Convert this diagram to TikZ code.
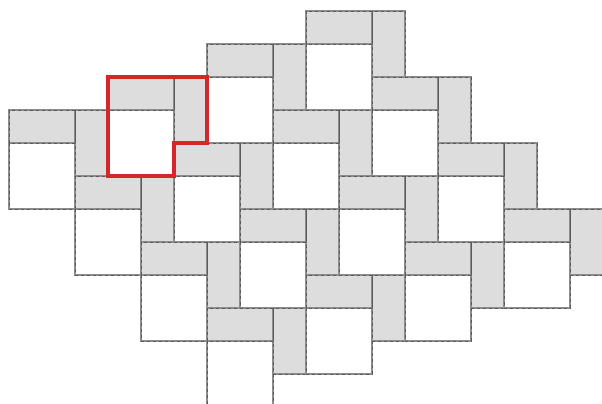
\documentclass[tikz,border=0pt]{standalone}
\definecolor{tilefill}{RGB}{221,221,221}
\definecolor{tileline}{RGB}{140,140,140}
\definecolor{tiledash}{RGB}{90,90,90}
\definecolor{redline}{RGB}{212,40,40}
\begin{document}
\begin{tikzpicture}[x=0.75pt,y=-0.75pt,
  tile/.style={draw=tileline,line width=1.4pt},
  tiledots/.style={draw=tiledash,line width=0.7pt,dash pattern=on 2pt off 2.5pt},
  bar/.style={tile,fill=tilefill},
  sq/.style={tile,fill=white},
  highlight/.style={draw=redline,line width=2.5pt,line join=miter}]
\useasboundingbox (0,0) rectangle (602,403);
\clip (0,0) rectangle (602,403);
\foreach \j in {0,...,3}{
  \foreach \k in {-1,...,2}{
    \pgfmathsetmacro{\i}{\j+\k}
    \pgfmathsetmacro{\X}{108+33*(3*\i-\j)}
    \pgfmathsetmacro{\Y}{110+33*(3*\j-\i)}
    \begin{scope}[shift={(\X,\Y)}]
      \path[bar] (0,-33) rectangle (66,0);
      \path[bar] (66,-33) rectangle (99,33);
      \path[sq] (0,0) rectangle (66,66);
      \path[tiledots] (0,-33) rectangle (66,0) (66,-33) rectangle (99,33) (0,0) rectangle (66,66);
    \end{scope}
  }
}
\draw[highlight] (108,77) -- (207,77) -- (207,143) -- (174,143) -- (174,176) -- (108,176) -- cycle;
\end{tikzpicture}
\end{document}
